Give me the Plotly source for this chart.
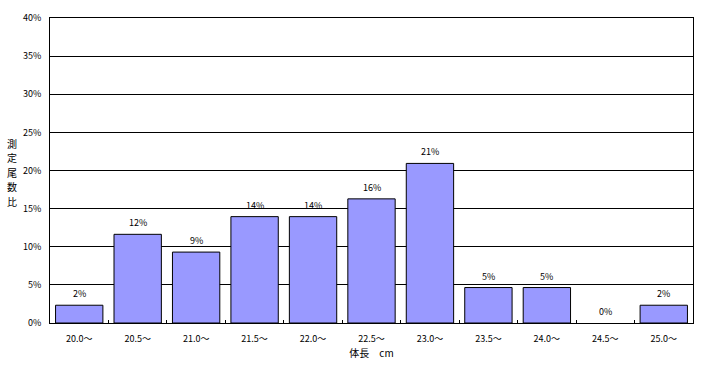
import plotly.graph_objects as go

categories = ["20.0～", "20.5～", "21.0～", "21.5～", "22.0～", "22.5～",
              "23.0～", "23.5～", "24.0～", "24.5～", "25.0～"]
ratios = [2.33, 11.63, 9.30, 13.95, 13.95, 16.28, 20.93, 4.65, 4.65, 0.0, 2.33]
labels = ["2%", "12%", "9%", "14%", "14%", "16%", "21%", "5%", "5%", "0%", "2%"]
y_ticks = [0, 5, 10, 15, 20, 25, 30, 35, 40]
y_tick_labels = ["0%", "5%", "10%", "15%", "20%", "25%", "30%", "35%", "40%"]
y_title_chars = ["測", "定", "尾", "数", "比"]

FONT = "Noto Sans CJK JP"

fig = go.Figure()
fig.add_trace(go.Bar(
    x=categories, y=ratios,
    marker=dict(color="#9999FF",
                line=dict(color="black", width=[1 if v > 0 else 0 for v in ratios])),
    hoverinfo="skip",
))

for c, v, t in zip(categories, ratios, labels):
    fig.add_annotation(x=c, y=v, text=t, showarrow=False, yanchor="bottom",
                       yshift=3, font=dict(family=FONT, size=9, color="black"))

for i, ch in enumerate(y_title_chars):
    fig.add_annotation(xref="paper", yref="paper", x=-0.059,
                       y=0.59 - i * 0.048, text=ch, showarrow=False,
                       font=dict(family=FONT, size=10, color="black"),
                       xanchor="center", yanchor="middle")

fig.update_layout(
    width=706, height=365,
    margin=dict(l=50, r=13, t=18, b=42),
    paper_bgcolor="white", plot_bgcolor="white",
    bargap=0.19,
    showlegend=False,
    font=dict(family=FONT, size=9, color="black"),
    xaxis=dict(
        automargin=False,
        showline=True, linecolor="black", linewidth=1, mirror=True,
        ticks="inside", tickson="boundaries", ticklen=3, tickcolor="black",
        ticklabelstandoff=7,
        title=dict(text="体長　cm", font=dict(family=FONT, size=10), standoff=2),
        tickfont=dict(family=FONT, size=9),
    ),
    yaxis=dict(
        automargin=False,
        range=[0, 40], tickvals=y_ticks, ticktext=y_tick_labels,
        showgrid=True, gridcolor="black", gridwidth=1,
        showline=True, linecolor="black", linewidth=1, mirror=True,
        zeroline=False, ticks="", ticklabelstandoff=6,
        tickfont=dict(family=FONT, size=9),
    ),
)

fig.write_html("out.html", config={"displayModeBar": False},
               post_script="document.body.style.margin='0';document.body.style.overflow='hidden';")
